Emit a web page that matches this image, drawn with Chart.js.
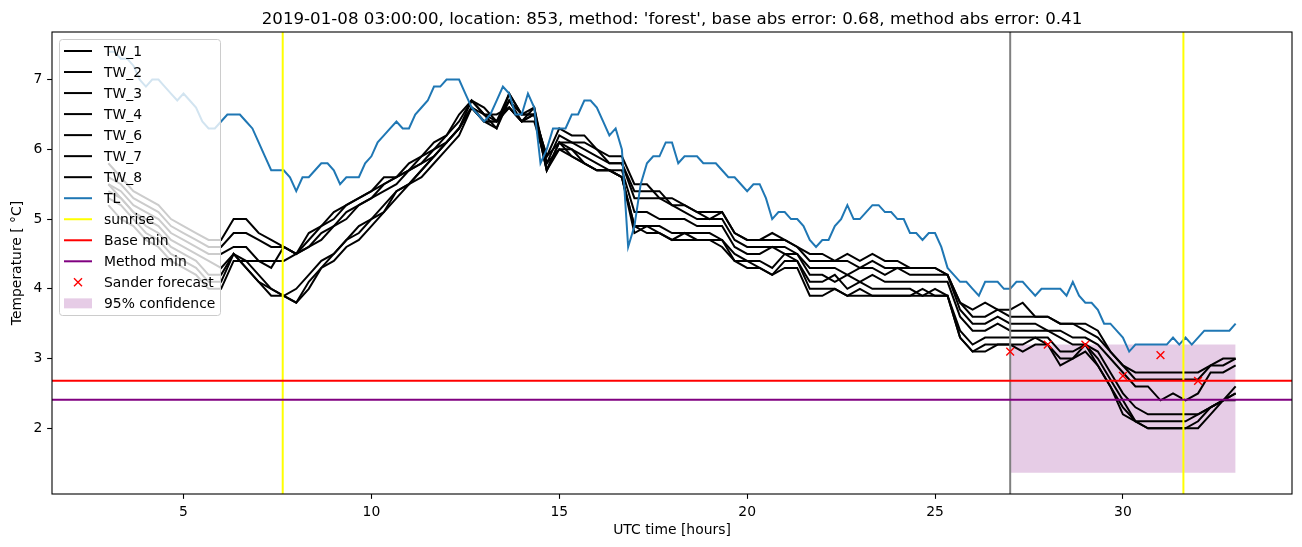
<!DOCTYPE html>
<html>
<head>
<meta charset="utf-8">
<title>Temperature forecast</title>
<script src="https://cdn.jsdelivr.net/npm/chart.js@4/dist/chart.umd.min.js"></script>
<style>
  html, body { margin: 0; padding: 0; background: #fff; }
  canvas { display: block; }
</style>
</head>
<body>
<canvas id="tempChart" width="1302" height="547"></canvas>
<script>
// TL is sampled every 10 minutes, the TW sensors every 20 minutes, from 03:00 UTC
const START_HOUR = 3;
const TL_STEP = 1 / 6;
const TW_STEP = 1 / 3;

// one row per hour
const TL = [
  7.4, 7.4, 7.3, 7.3, 7.2, 7.0,
  6.9, 7.0, 7.0, 6.9, 6.8, 6.7,
  6.8, 6.7, 6.6, 6.4, 6.3, 6.3,
  6.4, 6.5, 6.5, 6.5, 6.4, 6.3,
  6.1, 5.9, 5.7, 5.7, 5.7, 5.6,
  5.4, 5.6, 5.6, 5.7, 5.8, 5.8,
  5.7, 5.5, 5.6, 5.6, 5.6, 5.8,
  5.9, 6.1, 6.2, 6.3, 6.4, 6.3,
  6.3, 6.5, 6.6, 6.7, 6.9, 6.9,
  7.0, 7.0, 7.0, 6.8, 6.6, 6.5,
  6.4, 6.5, 6.7, 6.9, 6.8, 6.5,
  6.5, 6.8, 6.6, 5.8, 6.0, 6.3,
  6.3, 6.3, 6.5, 6.5, 6.7, 6.7,
  6.6, 6.4, 6.2, 6.3, 6.0, 4.6,
  4.9, 5.5, 5.8, 5.9, 5.9, 6.1,
  6.1, 5.8, 5.9, 5.9, 5.9, 5.8,
  5.8, 5.8, 5.7, 5.6, 5.6, 5.5,
  5.4, 5.5, 5.5, 5.3, 5.0, 5.1,
  5.1, 5.0, 5.0, 4.9, 4.7, 4.6,
  4.7, 4.7, 4.9, 5.0, 5.2, 5.0,
  5.0, 5.1, 5.2, 5.2, 5.1, 5.1,
  5.0, 5.0, 4.8, 4.8, 4.7, 4.8,
  4.8, 4.6, 4.3, 4.2, 4.1, 4.1,
  4.0, 3.9, 4.1, 4.1, 4.1, 4.0,
  4.0, 4.1, 4.1, 4.0, 3.9, 4.0,
  4.0, 4.0, 4.0, 3.9, 4.1, 3.9,
  3.8, 3.8, 3.7, 3.5, 3.5, 3.4,
  3.3, 3.1, 3.2, 3.2, 3.2, 3.2,
  3.2, 3.2, 3.3, 3.2, 3.3, 3.2,
  3.3, 3.4, 3.4, 3.4, 3.4, 3.4,
  3.5
];

const TW_1 = [
  5.8, 5.6, 5.4,  5.3, 5.2, 5.0,  4.9, 4.8, 4.7,  4.7, 5.0, 5.0,
  4.8, 4.7, 4.6,  4.5, 4.8, 4.9,  5.1, 5.2, 5.3,  5.4, 5.6, 5.6,
  5.8, 5.9, 6.1,  6.2, 6.5, 6.7,  6.6, 6.4, 6.7,  6.5, 6.5, 5.9,
  6.3, 6.2, 6.2,  6.0, 5.9, 5.9,  5.5, 5.5, 5.3,  5.3, 5.2, 5.1,
  5.1, 5.1, 4.8,  4.7, 4.7, 4.8,  4.7, 4.6, 4.5,  4.5, 4.4, 4.5,
  4.4, 4.5, 4.4,  4.4, 4.3, 4.3,  4.3, 4.2, 3.8,  3.7, 3.8, 3.7,
  3.7, 3.8, 3.6,  3.6, 3.5, 3.5,  3.5, 3.4, 3.1,  2.9, 2.8, 2.8,
  2.8, 2.8, 2.8,  2.8, 2.9, 3.0,  3.0
];
const TW_2 = [
  5.6, 5.5, 5.3,  5.2, 5.1, 4.9,  4.8, 4.7, 4.6,  4.6, 4.8, 4.8,
  4.7, 4.6, 4.6,  4.5, 4.7, 4.9,  5.0, 5.2, 5.3,  5.4, 5.5, 5.6,
  5.7, 5.9, 6.0,  6.2, 6.4, 6.7,  6.5, 6.5, 6.6,  6.4, 6.6, 5.8,
  6.2, 6.1, 6.1,  6.0, 5.8, 5.8,  5.4, 5.4, 5.4,  5.2, 5.2, 5.1,
  5.0, 5.1, 4.8,  4.7, 4.7, 4.7,  4.7, 4.6, 4.4,  4.4, 4.4, 4.4,
  4.3, 4.4, 4.3,  4.3, 4.3, 4.3,  4.3, 4.2, 3.8,  3.6, 3.6, 3.7,
  3.6, 3.6, 3.6,  3.6, 3.5, 3.5,  3.4, 3.3, 3.1,  2.9, 2.7, 2.7,
  2.7, 2.7, 2.7,  2.7, 2.9, 2.9,  3.0
];
const TW_3 = [
  5.5, 5.4, 5.2,  5.1, 5.0, 4.8,  4.7, 4.6, 4.5,  4.5, 4.6, 4.6,
  4.4, 4.3, 4.6,  4.5, 4.6, 4.8,  4.9, 5.1, 5.2,  5.3, 5.5, 5.6,
  5.7, 5.8, 6.0,  6.1, 6.3, 6.6,  6.5, 6.3, 6.8,  6.5, 6.5, 5.9,
  6.1, 6.1, 6.0,  5.9, 5.8, 5.8,  5.3, 5.3, 5.3,  5.2, 5.1, 5.0,
  5.0, 5.0, 4.7,  4.6, 4.6, 4.6,  4.6, 4.5, 4.3,  4.3, 4.3, 4.2,
  4.3, 4.3, 4.2,  4.3, 4.2, 4.2,  4.2, 4.2, 3.7,  3.5, 3.5, 3.6,
  3.5, 3.5, 3.5,  3.4, 3.4, 3.3,  3.3, 3.2, 3.0,  2.8, 2.6, 2.6,
  2.4, 2.5, 2.4,  2.5, 2.8, 2.8,  2.9
];
const TW_4 = [
  5.4, 5.3, 5.1,  5.0, 4.9, 4.7,  4.6, 4.5, 4.4,  4.3, 4.5, 4.4,
  4.4, 4.4, 4.4,  4.5, 4.6, 4.7,  4.9, 5.0, 5.2,  5.3, 5.4, 5.5,
  5.7, 5.8, 5.9,  6.1, 6.3, 6.6,  6.4, 6.4, 6.6,  6.4, 6.5, 5.7,
  6.1, 6.0, 5.9,  5.8, 5.7, 5.7,  5.1, 5.1, 5.0,  5.0, 5.0, 4.9,
  4.9, 4.9, 4.6,  4.5, 4.5, 4.6,  4.5, 4.5, 4.2,  4.2, 4.1, 4.2,
  4.1, 4.2, 4.1,  4.1, 4.1, 4.1,  4.1, 4.1, 3.6,  3.4, 3.4, 3.5,
  3.4, 3.4, 3.4,  3.4, 3.3, 3.2,  3.2, 3.1, 2.8,  2.5, 2.3, 2.2,
  2.2, 2.2, 2.2,  2.2, 2.3, 2.4,  2.6
];
const TW_6 = [
  5.5, 5.3, 5.1,  4.9, 4.8, 4.6,  4.5, 4.4, 4.2,  4.2, 4.5, 4.3,
  4.1, 4.0, 3.9,  4.0, 4.2, 4.4,  4.5, 4.7, 4.9,  5.0, 5.2, 5.4,
  5.5, 5.7, 5.9,  6.1, 6.3, 6.7,  6.5, 6.4, 6.8,  6.5, 6.6, 5.7,
  6.0, 6.0, 5.8,  5.7, 5.7, 5.6,  4.9, 4.9, 4.9,  4.8, 4.8, 4.8,
  4.8, 4.7, 4.5,  4.4, 4.4, 4.3,  4.5, 4.4, 4.1,  4.1, 4.2, 4.0,
  4.1, 4.0, 4.0,  4.0, 4.0, 3.9,  4.0, 3.9, 3.4,  3.2, 3.3, 3.3,
  3.3, 3.3, 3.3,  3.3, 3.1, 3.1,  3.2, 3.0, 2.7,  2.4, 2.1, 2.1,
  2.1, 2.1, 2.1,  2.2, 2.3, 2.4,  2.5
];
const TW_7 = [
  5.3, 5.2, 5.0,  4.8, 4.7, 4.5,  4.4, 4.3, 4.1,  4.1, 4.5, 4.3,
  4.1, 3.9, 3.9,  3.8, 4.1, 4.3,  4.5, 4.7, 4.8,  5.0, 5.1, 5.4,
  5.5, 5.7, 5.9,  6.1, 6.3, 6.6,  6.4, 6.3, 6.7,  6.4, 6.5, 5.7,
  6.1, 5.9, 5.8,  5.7, 5.7, 5.6,  4.8, 4.9, 4.8,  4.7, 4.7, 4.7,
  4.7, 4.7, 4.4,  4.4, 4.3, 4.2,  4.4, 4.4, 4.0,  4.0, 4.0, 3.9,
  4.0, 3.9, 3.9,  3.9, 3.9, 4.0,  3.9, 3.9, 3.3,  3.1, 3.2, 3.2,
  3.2, 3.2, 3.3,  3.2, 3.0, 3.0,  3.2, 2.9, 2.6,  2.3, 2.1, 2.0,
  2.0, 2.0, 2.0,  2.1, 2.3, 2.4,  2.5
];
const TW_8 = [
  5.2, 5.0, 4.9,  4.7, 4.6, 4.4,  4.3, 4.2, 4.0,  4.0, 4.4, 4.4,
  4.2, 4.0, 3.9,  3.8, 4.0, 4.3,  4.4, 4.6, 4.7,  4.9, 5.1, 5.3,
  5.5, 5.6, 5.8,  6.0, 6.2, 6.6,  6.4, 6.4, 6.6,  6.4, 6.4, 5.8,
  6.0, 5.9, 5.8,  5.7, 5.7, 5.6,  4.9, 4.8, 4.8,  4.7, 4.8, 4.7,
  4.7, 4.6, 4.4,  4.3, 4.3, 4.2,  4.3, 4.3, 3.9,  3.9, 4.0, 3.9,
  3.9, 3.9, 3.9,  3.9, 3.9, 3.9,  3.9, 3.9, 3.3,  3.1, 3.1, 3.2,
  3.2, 3.1, 3.2,  3.2, 2.9, 3.0,  3.1, 2.9, 2.6,  2.2, 2.1, 2.0,
  2.0, 2.0, 2.0,  2.0, 2.2, 2.4,  2.4
];

const SANDER_HOURS = [27, 28, 29, 30, 31, 32];
const SANDER_FORECAST = [3.1, 3.2, 3.2, 2.75, 3.05, 2.68];
const SUNRISE_HOURS = [7.64, 31.61];
const FORECAST_HOUR = 27;
const BASE_MIN = 2.68;
const METHOD_MIN = 2.41;
const CONF_HOURS = [27, 33];
const CONF_LOW = 1.36;
const CONF_HIGH = 3.2;

const X_TICKS = [5, 10, 15, 20, 25, 30];
const Y_TICKS = [2, 3, 4, 5, 6, 7];
const X_MIN = 1.5, X_MAX = 34.5;
const Y_MIN = 1.057, Y_MAX = 7.683;

const TITLE = "2019-01-08 03:00:00, location: 853, method: 'forest', base abs error: 0.68, method abs error: 0.41";
const FONT = '"DejaVu Sans", sans-serif';
const TICK_PX = 4.86;

const TW_SERIES = [
  ["TW_1", TW_1], ["TW_2", TW_2], ["TW_3", TW_3], ["TW_4", TW_4],
  ["TW_6", TW_6], ["TW_7", TW_7], ["TW_8", TW_8],
];

const LEGEND_ITEMS = [
  ...TW_SERIES.map(([label]) => ({ label, kind: "line", color: "#000000" })),
  { label: "TL", kind: "line", color: "#1f77b4" },
  { label: "sunrise", kind: "line", color: "#ffff00" },
  { label: "Base min", kind: "line", color: "#ff0000" },
  { label: "Method min", kind: "line", color: "#800080" },
  { label: "Sander forecast", kind: "cross", color: "#ff0000" },
  { label: "95% confidence", kind: "patch", color: "rgba(128,0,128,0.2)" },
];

function toPoints(values, step) {
  return values.map((v, i) => ({ x: START_HOUR + i * step, y: v }));
}

function lineSet(label, data, color, order) {
  return {
    label, data, order,
    borderColor: color,
    borderWidth: 2,
    pointRadius: 0,
    tension: 0,
    fill: false,
  };
}

function verticalLine(label, hour, color, order) {
  return lineSet(label, [{ x: hour, y: Y_MIN }, { x: hour, y: Y_MAX }], color, order);
}

function horizontalLine(label, value, color, order) {
  return lineSet(label, [{ x: X_MIN, y: value }, { x: X_MAX, y: value }], color, order);
}

function drawLegend(ctx) {
  ctx.save();
  ctx.beginPath();
  if (ctx.roundRect) ctx.roundRect(59.5, 39.5, 161, 276, 3);
  else ctx.rect(59.5, 39.5, 161, 276);
  ctx.fillStyle = "rgba(255,255,255,0.8)";
  ctx.fill();
  ctx.strokeStyle = "#cccccc";
  ctx.lineWidth = 1;
  ctx.stroke();

  ctx.font = `13.9px ${FONT}`;
  ctx.textAlign = "left";
  ctx.textBaseline = "alphabetic";
  LEGEND_ITEMS.forEach((item, i) => {
    const y = 51 + i * 21.03;
    if (item.kind === "line") {
      ctx.strokeStyle = item.color;
      ctx.lineWidth = 2;
      ctx.beginPath();
      ctx.moveTo(64, y);
      ctx.lineTo(92, y);
      ctx.stroke();
    } else if (item.kind === "cross") {
      ctx.strokeStyle = item.color;
      ctx.lineWidth = 1.4;
      ctx.beginPath();
      ctx.moveTo(74, y - 4); ctx.lineTo(82, y + 4);
      ctx.moveTo(74, y + 4); ctx.lineTo(82, y - 4);
      ctx.stroke();
    } else {
      ctx.fillStyle = item.color;
      ctx.fillRect(64, y - 5, 28, 10);
    }
    ctx.fillStyle = "#000";
    ctx.fillText(item.label, 104, y + 5);
  });
  ctx.restore();
}

const decorations = {
  id: "decorations",
  beforeDraw(chart) {
    const { ctx, width, height } = chart;
    ctx.save();
    ctx.fillStyle = "#fff";
    ctx.fillRect(0, 0, width, height);
    ctx.restore();
  },
  afterDraw(chart) {
    const { ctx, chartArea: a } = chart;
    ctx.save();
    ctx.fillStyle = "#000";
    ctx.font = `16.67px ${FONT}`;
    ctx.textAlign = "center";
    ctx.textBaseline = "alphabetic";
    ctx.fillText(TITLE, (a.left + a.right) / 2, 24);
    drawLegend(ctx);
    ctx.strokeStyle = "#000";
    ctx.lineWidth = 1.1;
    ctx.strokeRect(a.left, a.top, a.right - a.left, a.bottom - a.top);
    ctx.restore();
  },
};

const datasets = [
  {
    label: "95% confidence",
    data: [{ x: CONF_HOURS[0], y: CONF_HIGH }, { x: CONF_HOURS[1], y: CONF_HIGH }],
    borderWidth: 0,
    pointRadius: 0,
    backgroundColor: "rgba(128,0,128,0.2)",
    fill: { value: CONF_LOW },
    order: 100,
  },
  ...TW_SERIES.map(([label, values]) => lineSet(label, toPoints(values, TW_STEP), "#000000", 50)),
  lineSet("TL", toPoints(TL, TL_STEP), "#1f77b4", 40),
  ...SUNRISE_HOURS.map((h) => verticalLine("sunrise", h, "#ffff00", 30)),
  horizontalLine("Base min", BASE_MIN, "#ff0000", 20),
  horizontalLine("Method min", METHOD_MIN, "#800080", 20),
  verticalLine("forecast time", FORECAST_HOUR, "#808080", 25),
  {
    label: "Sander forecast",
    type: "scatter",
    data: SANDER_HOURS.map((h, i) => ({ x: h, y: SANDER_FORECAST[i] })),
    pointStyle: "crossRot",
    pointRadius: 5.5,
    borderColor: "#ff0000",
    borderWidth: 1.4,
    showLine: false,
    order: 10,
  },
];

const tickFont = { family: FONT, size: 13.9 };

new Chart(document.getElementById("tempChart"), {
  type: "line",
  data: { datasets },
  options: {
    responsive: false,
    animation: false,
    devicePixelRatio: 1,
    events: [],
    layout: { padding: { top: 32, right: 10, left: 0, bottom: 0 } },
    plugins: { legend: { display: false }, tooltip: { enabled: false }, title: { display: false } },
    scales: {
      x: {
        type: "linear",
        min: X_MIN,
        max: X_MAX,
        afterBuildTicks: (s) => { s.ticks = X_TICKS.map((v) => ({ value: v })); },
        afterFit: (s) => { s.height = 53; },
        ticks: { font: tickFont, color: "#000", padding: TICK_PX, maxRotation: 0, autoSkip: false },
        grid: { drawOnChartArea: false, drawTicks: true, tickLength: TICK_PX, tickWidth: 1.1, color: "#000" },
        border: { display: false },
        title: { display: true, text: "UTC time [hours]", font: tickFont, color: "#000", padding: { top: 0, bottom: 8 } },
      },
      y: {
        type: "linear",
        min: Y_MIN,
        max: Y_MAX,
        afterBuildTicks: (s) => { s.ticks = Y_TICKS.map((v) => ({ value: v })); },
        afterFit: (s) => { s.width = 52; },
        ticks: { font: tickFont, color: "#000", padding: TICK_PX, autoSkip: false },
        grid: { drawOnChartArea: false, drawTicks: true, tickLength: TICK_PX, tickWidth: 1.1, color: "#000" },
        border: { display: false },
        title: { display: true, text: "Temperature [ °C]", font: tickFont, color: "#000", padding: { top: 9, bottom: 0 } },
      },
    },
  },
  plugins: [decorations],
});
</script>
</body>
</html>
